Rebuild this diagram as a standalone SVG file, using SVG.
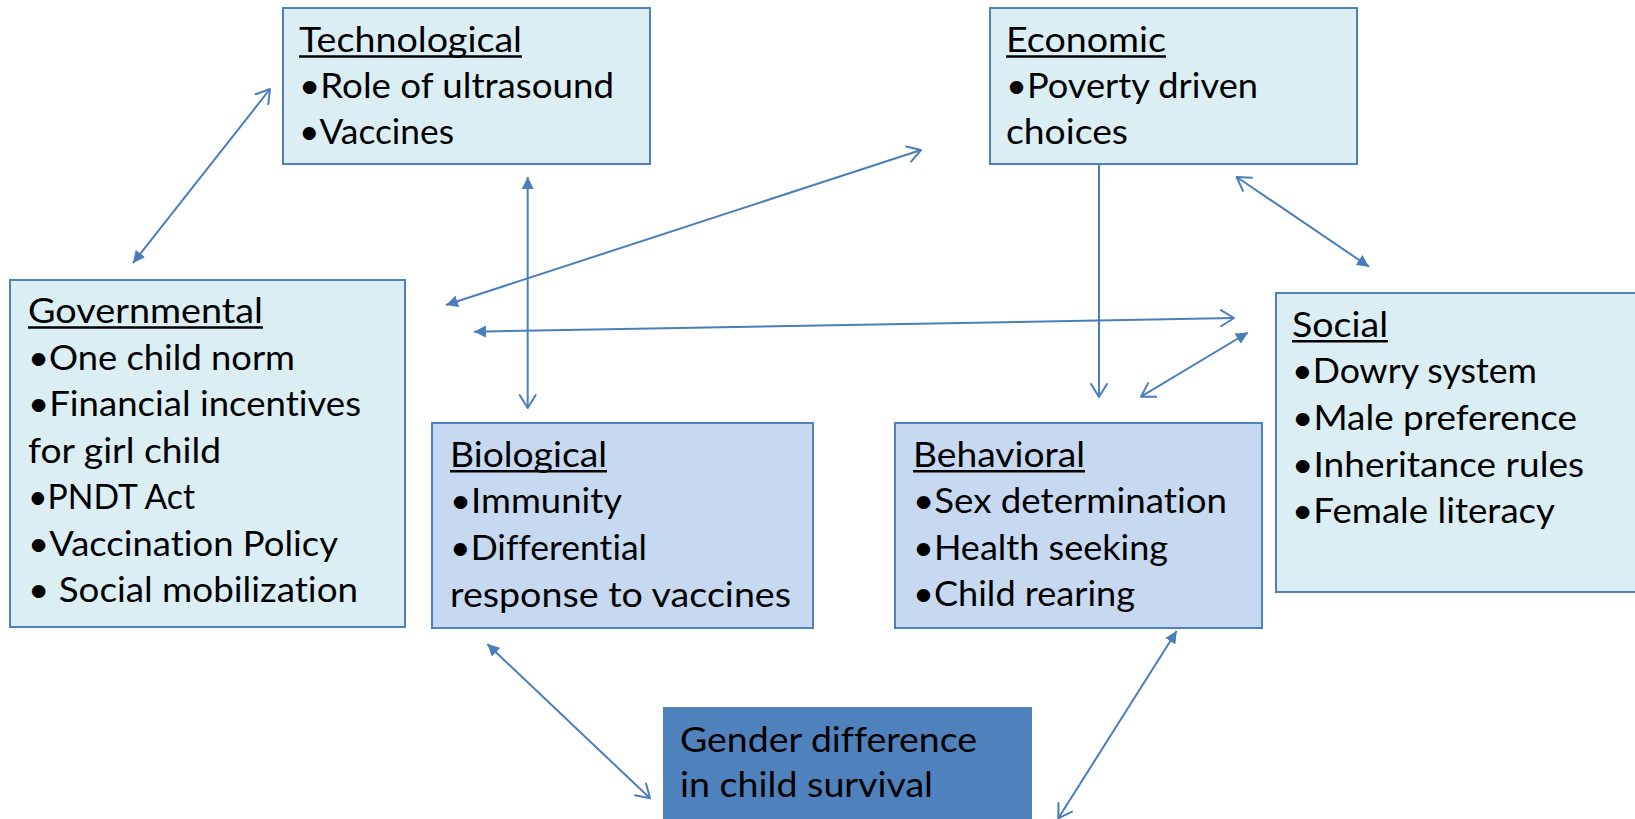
<svg xmlns="http://www.w3.org/2000/svg" width="1635" height="819" viewBox="0 0 1635 819">
<style>
.box{stroke:#4f81bd;stroke-width:2}
.l1{fill:#dbeef4}
.l2{fill:#c6d9f1}
.dk{fill:#4f81bd}
text{font-family:Lato,"Liberation Sans",sans-serif;font-size:35px;fill:#000;font-variant-ligatures:none}
.u{stroke:#000;stroke-width:2.6}
.c{stroke:#4a7ebb;stroke-width:2;fill:none}
</style>
<defs>
<marker id="fil" markerUnits="userSpaceOnUse" viewBox="0 0 12 12" refX="12" refY="6" markerWidth="12" markerHeight="12" orient="auto-start-reverse">
<path d="M0,0 L12,6 L0,12 z" fill="#4a7ebb"/>
</marker>
<marker id="opn" markerUnits="userSpaceOnUse" viewBox="-2 -2 18 20" refX="13" refY="8" markerWidth="18" markerHeight="20" orient="auto">
<path d="M0,0 L13,8 L0,16" fill="none" stroke="#4a7ebb" stroke-width="2" stroke-linejoin="round" stroke-linecap="round"/>
</marker>
</defs>
<g id="connectors">
<line class="c" x1="133" y1="263" x2="270" y2="89" marker-start="url(#fil)" marker-end="url(#opn)"/>
<line class="c" x1="527.7" y1="177" x2="527.7" y2="408" marker-start="url(#fil)" marker-end="url(#opn)"/>
<line class="c" x1="446" y1="305" x2="921" y2="150" marker-start="url(#fil)" marker-end="url(#opn)"/>
<line class="c" x1="474" y1="331.7" x2="1234" y2="318" marker-start="url(#fil)" marker-end="url(#opn)"/>
<line class="c" x1="1099" y1="164" x2="1099" y2="397" marker-end="url(#opn)"/>
<line class="c" x1="1369" y1="266.7" x2="1236.7" y2="177" marker-start="url(#fil)" marker-end="url(#opn)"/>
<line class="c" x1="1248" y1="332.5" x2="1141" y2="396.7" marker-start="url(#fil)" marker-end="url(#opn)"/>
<line class="c" x1="487.3" y1="644" x2="650" y2="798.3" marker-start="url(#fil)" marker-end="url(#opn)"/>
<line class="c" x1="1176.7" y1="631" x2="1058.3" y2="818.3" marker-start="url(#fil)" marker-end="url(#opn)"/>
</g>
<g id="technological">
<rect class="box l1" x="283" y="8" width="367" height="156"/>
<text x="299" y="52" textLength="223" lengthAdjust="spacingAndGlyphs">Technological</text>
<line class="u" x1="299" y1="56.5" x2="522" y2="56.5"/>
<text x="299" y="98" textLength="315" lengthAdjust="spacingAndGlyphs">•Role of ultrasound</text>
<text x="299" y="144" textLength="155" lengthAdjust="spacingAndGlyphs">•Vaccines</text>
</g>
<g id="economic">
<rect class="box l1" x="990" y="8" width="367" height="156"/>
<text x="1006" y="52" textLength="160" lengthAdjust="spacingAndGlyphs">Economic</text>
<line class="u" x1="1006" y1="56.5" x2="1166" y2="56.5"/>
<text x="1006" y="98" textLength="252" lengthAdjust="spacingAndGlyphs">•Poverty driven</text>
<text x="1006" y="144" textLength="122" lengthAdjust="spacingAndGlyphs">choices</text>
</g>
<g id="governmental">
<rect class="box l1" x="10" y="280" width="395" height="347"/>
<text x="28" y="323" textLength="235" lengthAdjust="spacingAndGlyphs">Governmental</text>
<line class="u" x1="28" y1="327.5" x2="263" y2="327.5"/>
<text x="28" y="369.5" textLength="267" lengthAdjust="spacingAndGlyphs">•One child norm</text>
<text x="28" y="416" textLength="333" lengthAdjust="spacingAndGlyphs">•Financial incentives</text>
<text x="28" y="462.5" textLength="193" lengthAdjust="spacingAndGlyphs">for girl child</text>
<text x="28" y="509" textLength="167" lengthAdjust="spacingAndGlyphs">•PNDT Act</text>
<text x="28" y="555.5" textLength="310" lengthAdjust="spacingAndGlyphs">•Vaccination Policy</text>
<text x="28" y="602" textLength="330" lengthAdjust="spacingAndGlyphs">• Social mobilization</text>
</g>
<g id="biological">
<rect class="box l2" x="432" y="423" width="381" height="205"/>
<text x="450" y="466.7" textLength="157" lengthAdjust="spacingAndGlyphs">Biological</text>
<line class="u" x1="450" y1="471.2" x2="607" y2="471.2"/>
<text x="450" y="513" textLength="172" lengthAdjust="spacingAndGlyphs">•Immunity</text>
<text x="450" y="560" textLength="197" lengthAdjust="spacingAndGlyphs">•Differential</text>
<text x="450" y="606.7" textLength="341" lengthAdjust="spacingAndGlyphs">response to vaccines</text>
</g>
<g id="behavioral">
<rect class="box l2" x="895" y="423" width="367" height="205"/>
<text x="913" y="466.7" textLength="172" lengthAdjust="spacingAndGlyphs">Behavioral</text>
<line class="u" x1="913" y1="471.2" x2="1085" y2="471.2"/>
<text x="913" y="513" textLength="314" lengthAdjust="spacingAndGlyphs">•Sex determination</text>
<text x="913" y="560" textLength="255" lengthAdjust="spacingAndGlyphs">•Health seeking</text>
<text x="913" y="606" textLength="222" lengthAdjust="spacingAndGlyphs">•Child rearing</text>
</g>
<g id="social">
<rect class="box l1" x="1276" y="293" width="380" height="299"/>
<text x="1292" y="336.7" textLength="96" lengthAdjust="spacingAndGlyphs">Social</text>
<line class="u" x1="1292" y1="341.2" x2="1388" y2="341.2"/>
<text x="1292" y="383" textLength="245" lengthAdjust="spacingAndGlyphs">•Dowry system</text>
<text x="1292" y="430" textLength="285" lengthAdjust="spacingAndGlyphs">•Male preference</text>
<text x="1292" y="476.7" textLength="292" lengthAdjust="spacingAndGlyphs">•Inheritance rules</text>
<text x="1292" y="523" textLength="263" lengthAdjust="spacingAndGlyphs">•Female literacy</text>
</g>
<g id="gender">
<rect class="dk" x="663" y="707" width="369" height="130"/>
<text x="680" y="751.7" textLength="297" lengthAdjust="spacingAndGlyphs">Gender difference</text>
<text x="680" y="796.7" textLength="253" lengthAdjust="spacingAndGlyphs">in child survival</text>
</g>
</svg>
